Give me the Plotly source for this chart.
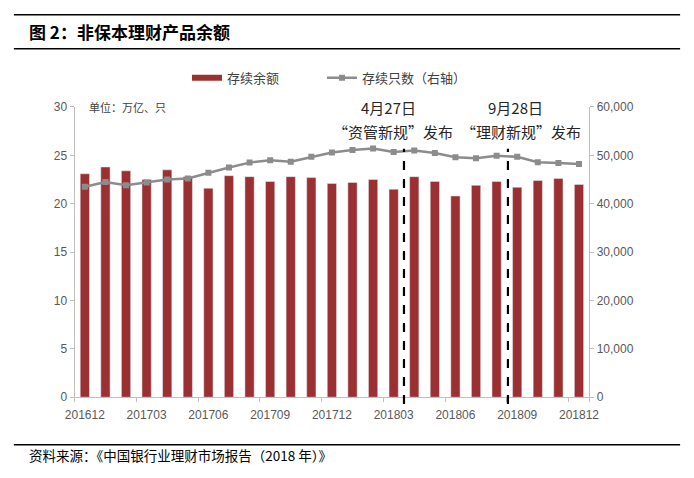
import plotly.graph_objects as go

months = ["201612", "201701", "201702", "201703", "201704", "201705", "201706",
          "201707", "201708", "201709", "201710", "201711", "201712", "201801",
          "201802", "201803", "201804", "201805", "201806", "201807", "201808",
          "201809", "201810", "201811", "201812"]
balance = [23.1, 23.8, 23.4, 22.5, 23.5, 22.8, 21.6, 22.9, 22.8, 22.3, 22.8, 22.7,
           22.1, 22.2, 22.5, 21.5, 22.8, 22.3, 20.8, 21.9, 22.3, 21.7, 22.4, 22.6, 22.0]
count = [43500, 44500, 43800, 44400, 45000, 45200, 46400, 47500, 48500, 49000,
         48700, 49700, 50600, 51100, 51400, 50700, 51000, 50500, 49600, 49400,
         49900, 49700, 48600, 48400, 48200]
event_pos = [15.5, 20.55]
event_dates = ["4月27日", "9月28日"]
event_names = ["“资管新规”发布", "“理财新规”发布"]

idx = list(range(len(months)))
W, H = 694, 478
FONT = "Noto Sans CJK SC"
GREY = "#595959"
RED = "#9b3032"

def px(x):
    return x / W

def py(y):
    return 1 - y / H

def label(x, y, text, size, color="#262626", xanchor="center"):
    fig.add_annotation(x=px(x), y=py(y), xref="paper", yref="paper", text=text,
                       xanchor=xanchor, yanchor="middle", showarrow=False,
                       font=dict(family=FONT, size=size, color=color))

fig = go.Figure()
fig.add_trace(go.Bar(x=idx, y=balance, name="存续余额", marker_color=RED,
                     width=0.45, yaxis="y", showlegend=False))
# flat swatch for the bar legend entry, like the source
fig.add_trace(go.Scatter(x=[None], y=[None], name="存续余额", mode="lines",
                         line=dict(color=RED, width=6)))
fig.add_trace(go.Scatter(x=idx, y=count, name="存续只数（右轴）", yaxis="y2",
                         mode="lines+markers",
                         line=dict(color="#8c8c8c", width=2.5),
                         marker=dict(symbol="square", size=6, color="#8c8c8c")))

for p in event_pos:
    fig.add_shape(type="line", xref="x", yref="paper", x0=p, x1=p,
                  y0=py(409), y1=py(146), line=dict(color="black", width=2.2, dash="dash"))

label(390, 104, event_dates[0], 15)
label(395, 128, event_names[0], 15)
label(521, 104, event_dates[1], 15)
label(526, 128, event_names[1], 15)
label(80, 103, "单位：万亿、只", 11, "#404040", "left")

# page decoration: title, rules and source
for y in (8, 43, 451):
    fig.add_shape(type="line", xref="paper", yref="paper", x0=px(5), x1=px(690),
                  y0=py(y), y1=py(y), line=dict(color="black", width=1.5))
label(18, 25, "<b>图 2：非保本理财产品余额</b>", 17, "black", "left")
label(18, 462, "资料来源：《中国银行业理财市场报告（2018 年）》", 13.5, "black", "left")

fig.update_layout(
    width=W, height=H, margin=dict(l=0, r=0, t=0, b=0),
    plot_bgcolor="white", paper_bgcolor="white",
    font=dict(family=FONT, size=11, color=GREY),
    legend=dict(orientation="h", x=px(183), y=py(73), xanchor="left", yanchor="middle",
                font=dict(family=FONT, size=13, color="#404040"), itemwidth=30,
                traceorder="normal", entrywidth=90),
    xaxis=dict(domain=[px(67.4), px(596.6)], range=[-0.5, 24.5],
               tickvals=idx[::3], ticktext=months[::3], ticks="",
               showline=True, linecolor="#bfbfbf", linewidth=1, ticklabelstandoff=6,
               minor=dict(tickmode="array", tickvals=[i - 0.5 for i in idx[::3]] + [24.5],
                          ticks="outside", ticklen=4, tickcolor="#bfbfbf"),
               showgrid=False, tickfont=dict(family="Liberation Sans", size=12, color=GREY)),
    yaxis=dict(domain=[py(402), py(103)], range=[0, 30], dtick=5,
               showline=True, linecolor="#bfbfbf", ticks="outside", ticklen=4,
               tickcolor="#bfbfbf", showgrid=False, zeroline=False,
               tickfont=dict(family="Liberation Sans", size=12, color=GREY)),
    yaxis2=dict(overlaying="y", side="right", anchor="x", range=[0, 60000], dtick=10000,
                tickformat=",", showline=True, linecolor="#bfbfbf", ticks="outside",
                ticklen=4, tickcolor="#bfbfbf", showgrid=False, zeroline=False,
                tickfont=dict(family="Liberation Sans", size=12, color=GREY)),
)

fig.write_html("out.html", config={"displayModeBar": False},
               post_script="document.body.style.margin = '0';")
